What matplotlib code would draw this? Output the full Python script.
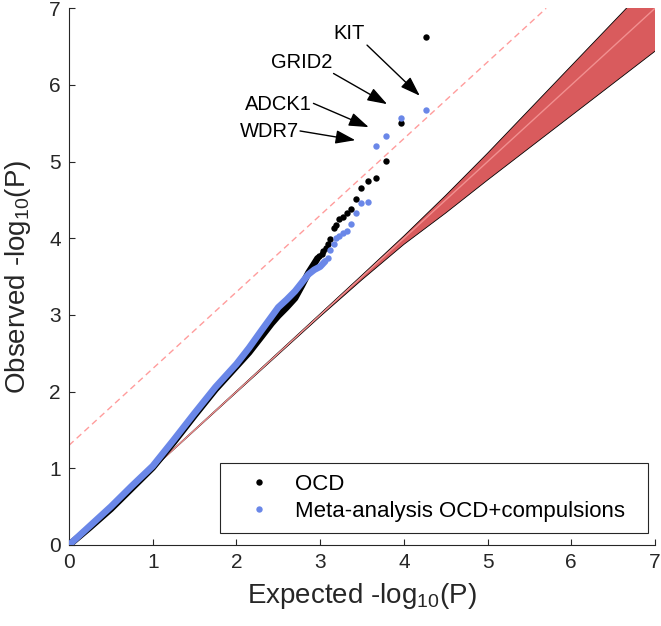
import matplotlib
matplotlib.use('Agg')
import matplotlib.pyplot as plt
from matplotlib.lines import Line2D

plt.rcParams['font.family'] = ['Liberation Sans', 'DejaVu Sans']
plt.rcParams['mathtext.default'] = 'regular'

# ---- data ----
# dense part of the QQ curves
ocd_dense_x = [0, 0.25, 0.5, 0.75, 1.0, 1.25, 1.5, 1.75, 2.0, 2.15, 2.3, 2.42, 2.5, 2.6, 2.7, 2.78, 2.86, 2.93, 2.97]
ocd_dense_y = [0, 0.23, 0.47, 0.74, 1.01, 1.34, 1.69, 2.03, 2.33, 2.51, 2.72, 2.89, 2.99, 3.10, 3.22, 3.38, 3.55, 3.67, 3.74]
meta_dense_x = [0, 0.25, 0.5, 0.75, 1.0, 1.25, 1.5, 1.75, 2.0, 2.15, 2.3, 2.42, 2.5, 2.6, 2.7, 2.78, 2.86, 2.93, 3.0, 3.06]
meta_dense_y = [0, 0.25, 0.50, 0.77, 1.03, 1.37, 1.72, 2.06, 2.36, 2.57, 2.80, 2.98, 3.10, 3.20, 3.31, 3.42, 3.53, 3.59, 3.63, 3.70]

# sparse top points
ocd_top_x = [4.27, 3.97, 3.79, 3.67, 3.57, 3.49, 3.43, 3.37, 3.32, 3.27, 3.23, 3.19, 3.16, 3.12, 3.09, 3.07, 3.04, 3.02, 2.99]
ocd_top_y = [6.62, 5.50, 5.01, 4.79, 4.75, 4.66, 4.51, 4.38, 4.33, 4.28, 4.25, 4.18, 4.14, 3.99, 3.93, 3.88, 3.84, 3.80, 3.77]
meta_top_x = [4.27, 3.97, 3.79, 3.67, 3.57, 3.49, 3.43, 3.37, 3.32, 3.27, 3.23, 3.19, 3.16, 3.12, 3.09]
meta_top_y = [5.67, 5.57, 5.34, 5.20, 4.48, 4.46, 4.33, 4.19, 4.10, 4.07, 4.03, 4.00, 3.93, 3.85, 3.74]

# null confidence band
band_x = [0, 1, 2, 3, 3.5, 4, 4.5, 5, 5.5, 6, 6.5, 7]
band_lo = [0, 0.995, 1.99, 2.98, 3.46, 3.92, 4.33, 4.76, 5.18, 5.60, 6.02, 6.44]
band_hi = [0, 1.004, 2.008, 3.015, 3.52, 4.03, 4.56, 5.11, 5.68, 6.25, 6.82, 7.39]

# reference lines
diag_x = [0, 7]
diag_y = [0, 7]
thresh_x = [0, 5.7]
thresh_y = [1.30, 7.0]

# gene annotations: label, text position, arrow start, arrow tip
gene_labels = ['KIT', 'GRID2', 'ADCK1', 'WDR7']
gene_text_x = [3.345, 2.78, 2.50, 2.40]
gene_text_y = [6.67, 6.29, 5.75, 5.39]
arrow_start_x = [3.56, 3.16, 2.92, 2.76]
arrow_start_y = [6.52, 6.15, 5.76, 5.40]
arrow_tip_x = [4.19, 3.80, 3.58, 3.42]
arrow_tip_y = [5.86, 5.75, 5.45, 5.28]

series_names = ['OCD', 'Meta-analysis OCD+compulsions']
x_ticks = [0, 1, 2, 3, 4, 5, 6, 7]
y_ticks = [0, 1, 2, 3, 4, 5, 6, 7]

# ---- styles ----
BLUE = '#6a87e8'
BLACK = '#000000'
BAND = '#d95b5d'
DIAG = '#f29090'
THRESH = '#ff9c9c'
AXC = '#262626'

fig = plt.figure(figsize=(6.61, 6.26), dpi=100)
ax = fig.add_axes([69/661, 81/626, 586/661, 536.7/626])

ax.fill_between(band_x, band_lo, band_hi, facecolor=BAND, edgecolor='none', zorder=1)
ax.plot(band_x, band_lo, color='black', lw=0.6, zorder=1.5)
ax.plot(band_x, band_hi, color='black', lw=0.6, zorder=1.5)
ax.plot(diag_x, diag_y, color=DIAG, lw=1.0, zorder=2)
ax.plot(thresh_x, thresh_y, color=THRESH, lw=1.0, dashes=(4.5, 3.0), zorder=2)

ms = 4.6
lw_dense = 4.8
ax.plot(ocd_dense_x, ocd_dense_y, '-', color=BLACK, lw=lw_dense,
        solid_capstyle='round', solid_joinstyle='round', zorder=3)
ax.plot(ocd_top_x, ocd_top_y, 'o', color=BLACK, ms=ms, mew=0, zorder=3)
ax.plot(meta_dense_x, meta_dense_y, '-', color=BLUE, lw=lw_dense,
        solid_capstyle='round', solid_joinstyle='round', zorder=4)
ax.plot(meta_top_x, meta_top_y, 'o', color=BLUE, ms=ms, mew=0, zorder=4)

for lab, tx, ty, sx, sy, ex, ey in zip(gene_labels, gene_text_x, gene_text_y,
                                       arrow_start_x, arrow_start_y,
                                       arrow_tip_x, arrow_tip_y):
    ax.text(tx, ty, lab, ha='center', va='center', fontsize=14.5, color='black', zorder=6)
    ax.annotate('', xy=(ex, ey), xytext=(sx, sy),
                arrowprops=dict(arrowstyle='-|>,head_length=1.1,head_width=0.38',
                                mutation_scale=11, color='black', lw=1.0,
                                shrinkA=0, shrinkB=0), zorder=6)

ax.set_xlim(0, 7)
ax.set_ylim(0, 7)
ax.set_xticks(x_ticks)
ax.set_yticks(y_ticks)
for s in ['top', 'right']:
    ax.spines[s].set_visible(False)
for s in ['left', 'bottom']:
    ax.spines[s].set_color(AXC)
    ax.spines[s].set_linewidth(0.8)
ax.tick_params(direction='in', length=4, width=0.8, colors=AXC, labelsize=15,
               labelcolor=AXC, pad=6)

ax.set_xlabel('Expected -log$_{10}$(P)', fontsize=20, color=AXC)
ax.set_ylabel('Observed -log$_{10}$(P)', fontsize=20, color=AXC)
ax.xaxis.set_label_coords(0.5, -0.068)
ax.yaxis.set_label_coords(-0.062, 0.5)

handles = [Line2D([], [], ls='none', marker='o', ms=ms, mew=0, color=BLACK),
           Line2D([], [], ls='none', marker='o', ms=ms, mew=0, color=BLUE)]
leg = ax.legend(handles, series_names, loc='lower left',
                bbox_to_anchor=(0.258, 0.0224, 0.730, 0.14), mode='expand',
                borderaxespad=0, fontsize=16.0, frameon=True, fancybox=False,
                handlelength=2.45, handletextpad=0.42, labelspacing=0.28,
                borderpad=0.5)
leg.get_frame().set_edgecolor(AXC)
leg.get_frame().set_linewidth(0.8)
leg.get_frame().set_alpha(1)
leg.set_zorder(7)

fig.savefig('out.png', dpi=100)
